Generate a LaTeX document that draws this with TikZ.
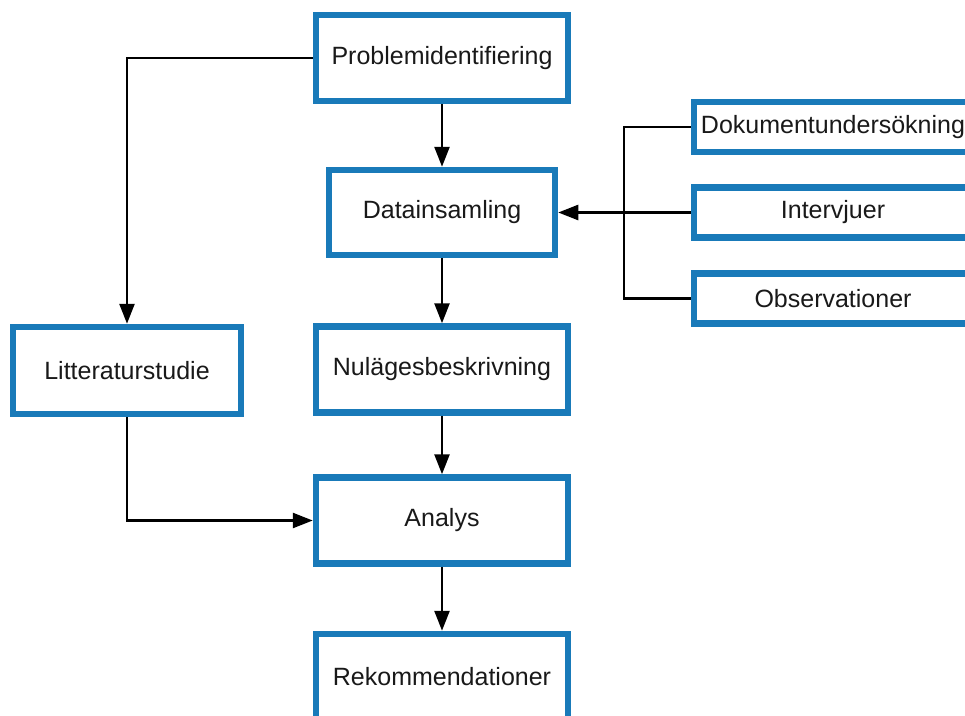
\documentclass[tikz,border=0pt]{standalone}
\usepackage{fontspec}
\setmainfont{Liberation Sans}
\usetikzlibrary{arrows.meta}
\definecolor{boxblue}{RGB}{25,122,185}
\tikzset{
  box/.style={draw=boxblue, line width=6.5pt, fill=white, inner sep=0pt,
    font=\fontsize{25}{30}\selectfont, text=black!90},
  mainbox/.style={box, minimum width=252pt, minimum height=86pt},
  sidebox/.style={box, minimum width=278pt, minimum height=50pt},
  conn/.style={line width=2.5pt, draw=black},
  arr/.style={conn, -{Triangle[length=20pt,width=15pt]}}
}
\begin{document}
\begin{tikzpicture}[x=1pt,y=-1pt]
\useasboundingbox (0,0) rectangle (965,715);
\clip (0,0) rectangle (965,715);
\node[mainbox] (prob) at (442,58) {Problemidentifiering};
\node[mainbox, minimum width=226pt, minimum height=85pt] (dat) at (442,212.5) {Datainsamling};
\node[mainbox] (nul) at (442,369.5) {Nulägesbeskrivning};
\node[mainbox, minimum width=228pt, minimum height=87pt] (lit) at (127,370.5) {Litteraturstudie};
\node[mainbox] (ana) at (442,520.5) {Analys};
\node[mainbox] (rek) at (442,677) {Rekommendationer};
\node[sidebox] (dok) at (833,127) {Dokumentundersökning};
\node[sidebox] (int) at (833,212.5) {Intervjuer};
\node[sidebox] (obs) at (833,298.5) {Observationer};
\coordinate (br) at (624,0);
\draw[arr] (prob.west) -| (lit.north);
\draw[arr] (prob.south) -- (dat.north);
\draw[arr] (dat.south) -- (nul.north);
\draw[arr] (nul.south) -- (ana.north);
\draw[arr] (ana.south) -- (rek.north);
\draw[arr] (lit.south) |- (ana.west);
\draw[conn] (dok.west) -| (br |- obs.west) -- (obs.west);
\draw[arr] (int.west) -- (dat.east);
\end{tikzpicture}
\end{document}
